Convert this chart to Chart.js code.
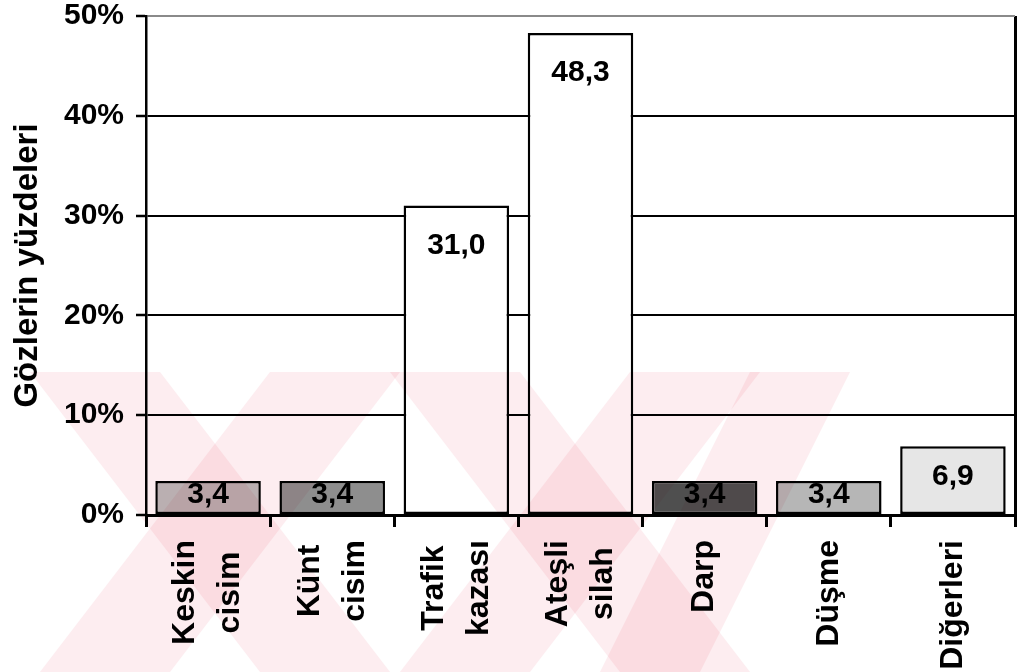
<!DOCTYPE html>
<html>
<head>
<meta charset="utf-8">
<script src="https://cdn.jsdelivr.net/npm/chart.js@4.4.1/dist/chart.umd.min.js"></script>
<style>
  html, body { margin:0; padding:0; background:#fff; }
</style>
</head>
<body>
<canvas id="injuryChart" width="1020" height="672"></canvas>
<script>
// injury causes vs share of eyes (%)
const categories  = [["Keskin","cisim"],["Künt","cisim"],["Trafik","kazası"],["Ateşli","silah"],["Darp"],["Düşme"],["Diğerleri"]];
const percentages = [3.4, 3.4, 31.0, 48.3, 3.4, 3.4, 6.9];
const barFills    = ["#bcbcbc","#8e8e8e","#ffffff","#ffffff","#4f4f4f","#b6b6b6","#e6e6e6"];
const yTicks      = [0, 10, 20, 30, 40, 50];

const FONT = "'Liberation Sans', Arial, sans-serif";

// white page under everything
const paper = {
  id:"paper",
  beforeDraw(chart) {
    const ctx = chart.ctx;
    ctx.save();
    ctx.fillStyle = "#fff";
    ctx.fillRect(0, 0, chart.width, chart.height);
    ctx.restore();
  }
};

// numbers printed inside the bars ("48,3")
const valueLabels = {
  id:"valueLabels",
  afterDatasetsDraw(chart) {
    const ctx = chart.ctx, meta = chart.getDatasetMeta(0);
    ctx.save();
    ctx.font = "bold 30px " + FONT;
    ctx.fillStyle = "#000";
    ctx.textAlign = "center";
    ctx.textBaseline = "middle";
    meta.data.forEach((bar, i) => {
      const y = Math.min(bar.y + 40, (bar.y + bar.base) / 2 - 3);
      ctx.fillText(percentages[i].toFixed(1).replace(".", ","), bar.x, y);
    });
    ctx.restore();
  }
};

// vertical category names, lines side by side, centred on each other
const categoryLabels = {
  id:"categoryLabels",
  afterDraw(chart) {
    const ctx = chart.ctx, x = chart.scales.x;
    ctx.save();
    ctx.font = "bold 32px " + FONT;
    ctx.fillStyle = "#000";
    ctx.textAlign = "center";
    ctx.textBaseline = "middle";
    const top = x.top + 25;
    categories.forEach((lines, i) => {
      const cx = x.getPixelForValue(i);
      const len = Math.max(...lines.map(l => ctx.measureText(l).width));
      lines.forEach((line, j) => {
        ctx.save();
        ctx.translate(cx + (j - (lines.length - 1) / 2) * 45, top + len / 2);
        ctx.rotate(-Math.PI / 2);
        ctx.fillText(line, 0, 0);
        ctx.restore();
      });
    });
    ctx.restore();
  }
};

// faint pink stamp over the lower half of the page
const stamp = {
  id:"stamp",
  afterDraw(chart) {
    const ctx = chart.ctx;
    const y0 = 372, y1 = 672;
    const bands = [
      [30, 160, 390, 260], [270, 400, 170, 40],
      [390, 520, 750, 620], [630, 760, 530, 400],
      [750, 850, 700, 600]
    ];
    ctx.save();
    ctx.globalCompositeOperation = "multiply";
    ctx.fillStyle = "#fdedf0";
    bands.forEach(b => {
      ctx.beginPath();
      ctx.moveTo(b[0], y0); ctx.lineTo(b[1], y0);
      ctx.lineTo(b[2], y1); ctx.lineTo(b[3], y1);
      ctx.closePath();
      ctx.fill();
    });
    ctx.restore();
  }
};

new Chart(document.getElementById("injuryChart").getContext("2d"), {
  type:"bar",
  data:{
    labels: categories,
    datasets:[{
      data: percentages,
      backgroundColor: barFills,
      borderColor:"#000",
      borderWidth:2.5,
      borderSkipped:false,
      categoryPercentage:1,
      barPercentage:0.85
    }]
  },
  options:{
    responsive:false,
    animation:false,
    devicePixelRatio:1,
    layout:{padding:{top:16, right:5, left:0, bottom:0}},
    plugins:{legend:{display:false}, tooltip:{enabled:false}},
    scales:{
      x:{
        ticks:{display:false},
        grid:{
          offset:true,
          color: c => c.type === "scale" ? "#000" : "rgba(0,0,0,0)",
          lineWidth:3, tickLength:12, tickColor:"#000", tickWidth:3
        },
        border:{color:"#000", width:3},
        afterFit: s => { s.height = 157; }
      },
      y:{
        min: yTicks[0], max: yTicks[yTicks.length - 1],
        afterBuildTicks: s => { s.ticks = yTicks.map(v => ({value:v})); },
        ticks:{color:"#000", padding:12, font:{family:FONT, size:30, weight:"bold"}, callback: v => v + "%"},
        grid:{
          color: c => c.tick && c.tick.value === 50 ? "#8a8a8a" : "#000",
          lineWidth:2, tickLength:10, tickColor:"#000", tickWidth:2.5
        },
        border:{color:"#000", width:2.5},
        title:{display:true, text:"Gözlerin yüzdeleri", color:"#000",
               font:{family:FONT, size:33, weight:"bold"}, padding:{top:8, bottom:0}},
        afterFit: s => { s.width = 146; s.paddingTop = 0; s.paddingBottom = 0; }
      }
    }
  },
  plugins:[paper, valueLabels, categoryLabels, stamp]
});
</script>
</body>
</html>
